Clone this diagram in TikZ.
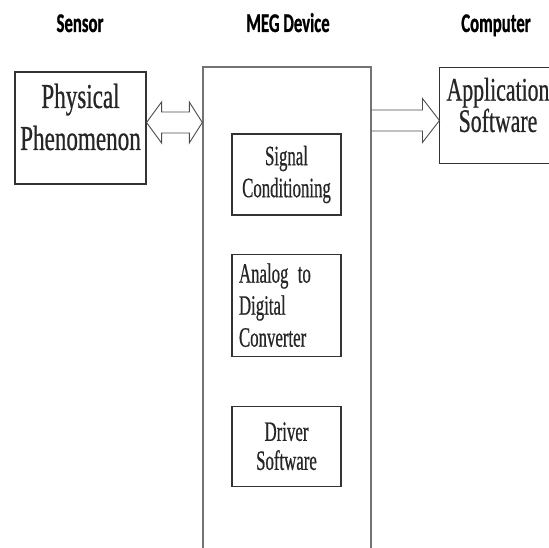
\documentclass[tikz,border=0pt]{standalone}
\usepackage{fontspec}
\usetikzlibrary{positioning,calc}
\newfontfamily\boxserif[FakeStretch=0.6,FakeBold=0.6]{Liberation Serif}
\newfontfamily\bigserif[FakeStretch=0.66,FakeBold=0.6]{Liberation Serif}
\newfontfamily\headsans[FakeStretch=0.62,FakeBold=0.8]{Carlito}
\tikzstyle{title} = [font=\headsans\bfseries\fontsize{27}{30}\selectfont, anchor=base]
\tikzstyle{block} = [rectangle, draw=black!80, line width=1.1pt, inner sep=0pt,
    align=center, text=black!85, font=\boxserif\fontsize{28}{32}\selectfont]
\tikzstyle{bigtext} = [align=center, text=black!85,
    font=\bigserif\fontsize{35}{42}\selectfont]
\tikzstyle{hollow} = [draw=black!70, line width=0.9pt, line join=miter]

\begin{document}
\begin{tikzpicture}[x=1pt,y=-1pt]
  \useasboundingbox (0,0) rectangle (549,548);

  \node[title] (sensor) at (80,32) {Sensor};
  \node[title] (megt) at (288,32) {MEG Device};
  \node[title] (comp) at (496,32) {Computer};

  \node[block, minimum width=131pt, minimum height=112pt] (phys) at (80.5,128) {};
  \node[bigtext] (physt) at ([yshift=11pt]phys.center) {Physical\\Phenomenon};

  \node[block, draw=black!55, line width=1.4pt, minimum width=168pt,
        minimum height=540pt] (meg) at (287,337) {};
  \node[block, minimum width=109pt, minimum height=81pt] (sig) at (286.5,174.5)
        {Signal\\Conditioning};
  \node[block, minimum height=102pt, text width=95pt, inner xsep=7pt, align=left]
        (adc) [below=38pt of sig] {Analog to\\Digital\\Converter};
  \node[block, minimum width=109pt, minimum height=80pt,
        font=\boxserif\fontsize{28}{29}\selectfont] (drv) [below=49pt of adc]
        {Driver\\Software};

  \node[block, draw=none, minimum width=140pt, minimum height=95pt] (app) at (510,115.5) {};
  \draw[black!80, line width=1.1pt] (app.north east) -- (app.north west)
        -- (app.south west) -- (app.south east);
  \node[bigtext, font=\bigserif\fontsize{33}{27}\selectfont] (appt)
        at ([xshift=-12pt,yshift=10.5pt]app.center) {Application\\Software};

  \coordinate (l) at ([yshift=5.5pt]phys.east);
  \coordinate (r) at (meg.west |- l);
  \draw[hollow] (l) -- ++(15,-20.5) -- ++(0,10) -- ($(r)+(-13,-10.5)$) -- ++(0,-10)
        -- (r) -- ++(-13,20.5) -- ++(0,-10) -- ($(l)+(15,10.5)$) -- ++(0,10) -- cycle;

  \coordinate (t) at ([yshift=-5pt]app.west);
  \coordinate (s) at (meg.east |- t);
  \draw[hollow] ($(s)+(0,-10.5)$) -- ($(t)+(-17,-10.5)$) -- ++(0,-11.5) -- (t)
        -- ++(-17,22) -- ++(0,-11.5) -- ($(s)+(0,10.5)$);
\end{tikzpicture}
\end{document}
